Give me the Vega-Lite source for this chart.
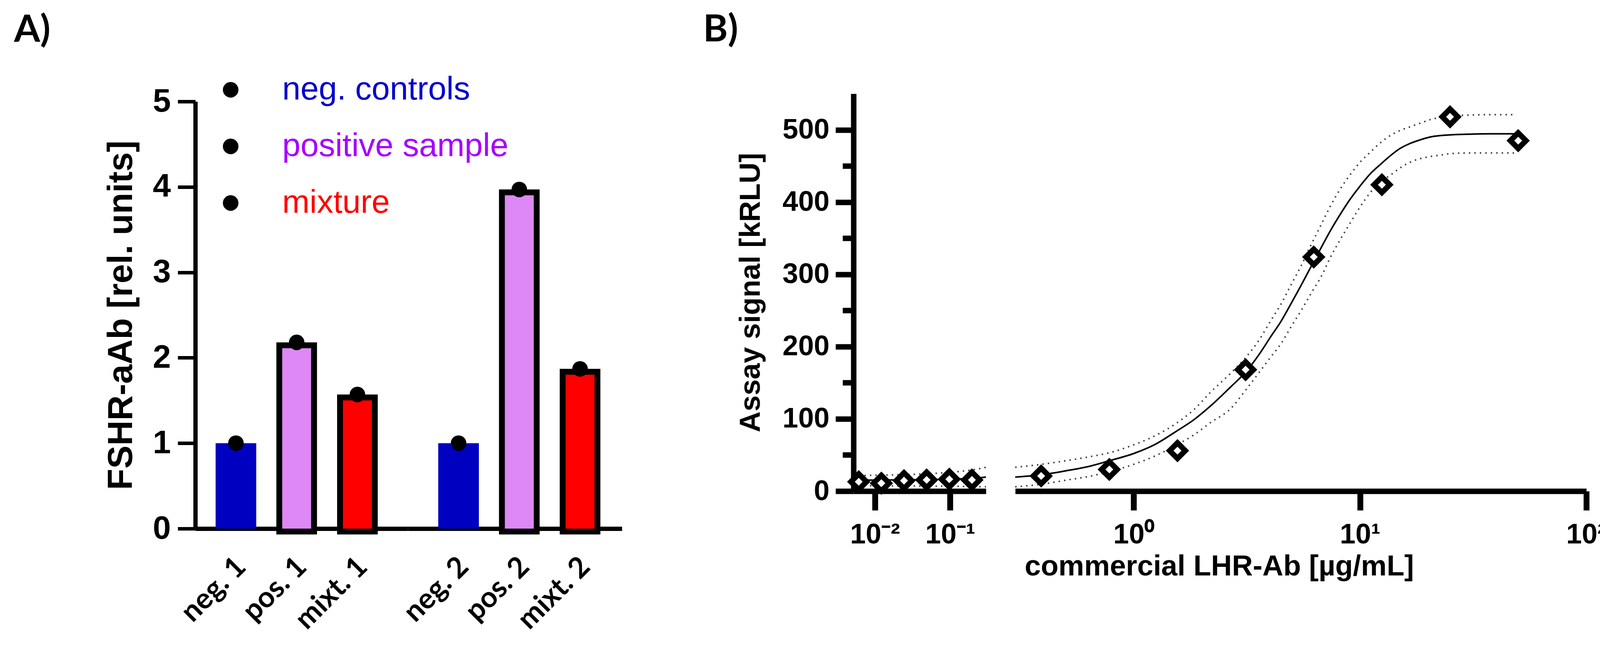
{
  "$schema": "https://vega.github.io/schema/vega-lite/v6.json",
  "background": "white",
  "padding": {"left": 36, "top": 29, "right": 40, "bottom": 28},
  "spacing": 0,
  "bounds": "flush",
  "resolve": {"scale": {"shape": "independent"}, "legend": {"shape": "independent"}},
  "datasets": {
    "bars": [
      {"sample": "neg. 1", "set": 1, "type": "neg. controls", "value": 1.0},
      {"sample": "pos. 1", "set": 1, "type": "positive sample", "value": 2.18},
      {"sample": "mixt. 1", "set": 1, "type": "mixture", "value": 1.57},
      {"sample": "neg. 2", "set": 2, "type": "neg. controls", "value": 1.0},
      {"sample": "pos. 2", "set": 2, "type": "positive sample", "value": 3.97},
      {"sample": "mixt. 2", "set": 2, "type": "mixture", "value": 1.87}
    ],
    "points": [
      {"conc": 0.0061, "signal": 13},
      {"conc": 0.0122, "signal": 11},
      {"conc": 0.0244, "signal": 14.5},
      {"conc": 0.0488, "signal": 15.5},
      {"conc": 0.0977, "signal": 16.5},
      {"conc": 0.1953, "signal": 15.5},
      {"conc": 0.3906, "signal": 21},
      {"conc": 0.7813, "signal": 30},
      {"conc": 1.5625, "signal": 56},
      {"conc": 3.125, "signal": 168},
      {"conc": 6.25, "signal": 324},
      {"conc": 12.5, "signal": 424},
      {"conc": 25, "signal": 518},
      {"conc": 50, "signal": 485}
    ],
    "curve": [
      {"band": "fit", "conc": 0.0052, "signal": 15.2},
      {"band": "fit", "conc": 0.01, "signal": 15.3},
      {"band": "fit", "conc": 0.02, "signal": 15.5},
      {"band": "fit", "conc": 0.05, "signal": 15.9},
      {"band": "fit", "conc": 0.1, "signal": 16.5},
      {"band": "fit", "conc": 0.15, "signal": 17.1},
      {"band": "fit", "conc": 0.2, "signal": 17.7},
      {"band": "fit", "conc": 0.25, "signal": 18.5},
      {"band": "fit", "conc": 0.3, "signal": 19.4},
      {"band": "fit", "conc": 0.39, "signal": 22.5},
      {"band": "fit", "conc": 0.5, "signal": 28},
      {"band": "fit", "conc": 0.65, "signal": 35},
      {"band": "fit", "conc": 0.78, "signal": 42},
      {"band": "fit", "conc": 1.0, "signal": 52},
      {"band": "fit", "conc": 1.25, "signal": 65},
      {"band": "fit", "conc": 1.53, "signal": 82},
      {"band": "fit", "conc": 1.85, "signal": 99},
      {"band": "fit", "conc": 2.19, "signal": 118},
      {"band": "fit", "conc": 2.68, "signal": 144},
      {"band": "fit", "conc": 3.13, "signal": 165},
      {"band": "fit", "conc": 3.6, "signal": 190},
      {"band": "fit", "conc": 4.02, "signal": 213},
      {"band": "fit", "conc": 4.5, "signal": 236},
      {"band": "fit", "conc": 4.93, "signal": 258},
      {"band": "fit", "conc": 5.5, "signal": 285},
      {"band": "fit", "conc": 6.04, "signal": 309},
      {"band": "fit", "conc": 6.82, "signal": 340},
      {"band": "fit", "conc": 7.39, "signal": 360},
      {"band": "fit", "conc": 8.18, "signal": 383},
      {"band": "fit", "conc": 9.05, "signal": 404},
      {"band": "fit", "conc": 10, "signal": 422},
      {"band": "fit", "conc": 11.1, "signal": 439},
      {"band": "fit", "conc": 12.3, "signal": 452},
      {"band": "fit", "conc": 13.6, "signal": 464},
      {"band": "fit", "conc": 15, "signal": 474},
      {"band": "fit", "conc": 16.6, "signal": 481},
      {"band": "fit", "conc": 18.4, "signal": 486},
      {"band": "fit", "conc": 20.4, "signal": 490},
      {"band": "fit", "conc": 22.6, "signal": 492},
      {"band": "fit", "conc": 25, "signal": 493},
      {"band": "fit", "conc": 30.6, "signal": 494},
      {"band": "fit", "conc": 38, "signal": 494.5},
      {"band": "fit", "conc": 48.9, "signal": 494.5},
      {"band": "upper", "conc": 0.0052, "signal": 21.5},
      {"band": "upper", "conc": 0.01, "signal": 22},
      {"band": "upper", "conc": 0.02, "signal": 22.6},
      {"band": "upper", "conc": 0.05, "signal": 24},
      {"band": "upper", "conc": 0.1, "signal": 26},
      {"band": "upper", "conc": 0.15, "signal": 27.8},
      {"band": "upper", "conc": 0.2, "signal": 29.5},
      {"band": "upper", "conc": 0.25, "signal": 31.2},
      {"band": "upper", "conc": 0.3, "signal": 33},
      {"band": "upper", "conc": 0.39, "signal": 37},
      {"band": "upper", "conc": 0.5, "signal": 42},
      {"band": "upper", "conc": 0.65, "signal": 48},
      {"band": "upper", "conc": 0.78, "signal": 53},
      {"band": "upper", "conc": 1.0, "signal": 64},
      {"band": "upper", "conc": 1.25, "signal": 77},
      {"band": "upper", "conc": 1.53, "signal": 93},
      {"band": "upper", "conc": 1.85, "signal": 113},
      {"band": "upper", "conc": 2.19, "signal": 137},
      {"band": "upper", "conc": 2.68, "signal": 163},
      {"band": "upper", "conc": 3.13, "signal": 185},
      {"band": "upper", "conc": 3.6, "signal": 210},
      {"band": "upper", "conc": 4.02, "signal": 235},
      {"band": "upper", "conc": 4.5, "signal": 260},
      {"band": "upper", "conc": 4.93, "signal": 284},
      {"band": "upper", "conc": 5.5, "signal": 312},
      {"band": "upper", "conc": 6.04, "signal": 339},
      {"band": "upper", "conc": 6.82, "signal": 372},
      {"band": "upper", "conc": 7.39, "signal": 394},
      {"band": "upper", "conc": 8.18, "signal": 418},
      {"band": "upper", "conc": 9.05, "signal": 438},
      {"band": "upper", "conc": 10, "signal": 455},
      {"band": "upper", "conc": 11.1, "signal": 469},
      {"band": "upper", "conc": 12.3, "signal": 482},
      {"band": "upper", "conc": 13.6, "signal": 492},
      {"band": "upper", "conc": 15, "signal": 499},
      {"band": "upper", "conc": 16.6, "signal": 504},
      {"band": "upper", "conc": 18.4, "signal": 509},
      {"band": "upper", "conc": 20.4, "signal": 514},
      {"band": "upper", "conc": 22.6, "signal": 517},
      {"band": "upper", "conc": 25, "signal": 519},
      {"band": "upper", "conc": 30.6, "signal": 520.5},
      {"band": "upper", "conc": 38, "signal": 521},
      {"band": "upper", "conc": 48.9, "signal": 521},
      {"band": "lower", "conc": 0.0052, "signal": 7.5},
      {"band": "lower", "conc": 0.01, "signal": 7.4},
      {"band": "lower", "conc": 0.02, "signal": 7.2},
      {"band": "lower", "conc": 0.05, "signal": 7.0},
      {"band": "lower", "conc": 0.1, "signal": 6.7},
      {"band": "lower", "conc": 0.15, "signal": 6.5},
      {"band": "lower", "conc": 0.2, "signal": 6.3},
      {"band": "lower", "conc": 0.25, "signal": 6.1},
      {"band": "lower", "conc": 0.3, "signal": 6.0},
      {"band": "lower", "conc": 0.39, "signal": 9.5},
      {"band": "lower", "conc": 0.5, "signal": 15},
      {"band": "lower", "conc": 0.65, "signal": 21},
      {"band": "lower", "conc": 0.78, "signal": 27},
      {"band": "lower", "conc": 1.0, "signal": 37},
      {"band": "lower", "conc": 1.25, "signal": 49},
      {"band": "lower", "conc": 1.53, "signal": 63},
      {"band": "lower", "conc": 1.85, "signal": 78},
      {"band": "lower", "conc": 2.19, "signal": 95},
      {"band": "lower", "conc": 2.68, "signal": 114},
      {"band": "lower", "conc": 3.13, "signal": 140},
      {"band": "lower", "conc": 3.6, "signal": 165},
      {"band": "lower", "conc": 4.02, "signal": 185},
      {"band": "lower", "conc": 4.5, "signal": 205},
      {"band": "lower", "conc": 4.93, "signal": 226},
      {"band": "lower", "conc": 5.5, "signal": 250},
      {"band": "lower", "conc": 6.04, "signal": 272},
      {"band": "lower", "conc": 6.82, "signal": 300},
      {"band": "lower", "conc": 7.39, "signal": 323},
      {"band": "lower", "conc": 8.18, "signal": 348},
      {"band": "lower", "conc": 9.05, "signal": 371},
      {"band": "lower", "conc": 10, "signal": 393},
      {"band": "lower", "conc": 11.1, "signal": 413},
      {"band": "lower", "conc": 12.3, "signal": 428},
      {"band": "lower", "conc": 13.6, "signal": 437},
      {"band": "lower", "conc": 15, "signal": 447},
      {"band": "lower", "conc": 16.6, "signal": 455},
      {"band": "lower", "conc": 18.4, "signal": 460},
      {"band": "lower", "conc": 20.4, "signal": 463},
      {"band": "lower", "conc": 22.6, "signal": 465},
      {"band": "lower", "conc": 25, "signal": 467},
      {"band": "lower", "conc": 30.6, "signal": 468},
      {"band": "lower", "conc": 38, "signal": 468},
      {"band": "lower", "conc": 48.9, "signal": 468}
    ]
  },
  "hconcat": [
    {
      "width": 544,
      "height": 1114,
      "title": {"text": "A)", "dx": -464, "offset": 61},
      "data": {"name": "bars"},
      "transform": [{"filter": "datum.set === 1"}],
      "encoding": {
        "x": {
          "field": "sample",
          "type": "nominal",
          "scale": {"domain": ["neg. 1", "pos. 1", "mixt. 1"], "paddingInner": 0.331, "paddingOuter": 0.4146, "align": 0.403},
          "axis": {"title": null, "ticks": false, "tickSize": 0, "domainWidth": 11, "labelAngle": -45, "labelAlign": "right", "labelBaseline": "middle", "labelFont": "Lato", "labelFontSize": 74, "labelFontWeight": "bold", "labelPadding": 86, "labelOffset": 14, "labelLimit": 1000}
        },
        "y": {
          "field": "value",
          "type": "quantitative",
          "scale": {"domain": [0, 5], "range": [1114, 20], "nice": false},
          "axis": {"title": "FSHR-aAb [rel. units]", "titleFontSize": 89, "titlePadding": 34, "values": [0, 1, 2, 3, 4, 5], "tickSize": 45, "tickWidth": 9, "domainWidth": 11, "labelFontSize": 83, "labelPadding": 18}
        }
      },
      "layer": [
        {
          "transform": [{"filter": "datum.type === 'neg. controls'"}],
          "mark": {"type": "bar"},
          "encoding": {"color": {"field": "type", "type": "nominal", "scale": {"domain": ["neg. controls", "positive sample", "mixture"], "range": ["#0000C0", "#DD88F5", "#FF0000"]}, "legend": null}}
        },
        {
          "transform": [{"filter": "datum.type !== 'neg. controls'"}],
          "mark": {"type": "bar", "stroke": "black", "strokeWidth": 15, "width": {"band": 0.856}, "yOffset": 7.5},
          "encoding": {"color": {"field": "type", "type": "nominal", "scale": {"domain": ["neg. controls", "positive sample", "mixture"], "range": ["#0000C0", "#DD88F5", "#FF0000"]}, "legend": null}}
        },
        {
          "mark": {"type": "point", "filled": true, "color": "black", "size": 1590, "strokeWidth": 0, "opacity": 1},
          "encoding": {
            "shape": {
              "field": "type",
              "type": "nominal",
              "scale": {"domain": ["neg. controls", "positive sample", "mixture"], "range": ["circle", "circle", "circle"]},
              "legend": {
                "orient": "none", "legendX": 48.5, "legendY": -52, "title": null, "direction": "vertical",
                "symbolType": "circle", "symbolSize": 1590, "symbolFillColor": "black", "symbolStrokeColor": "black",
                "labelFont": "Liberation Sans", "labelFontSize": 84, "labelFontWeight": "normal", "labelOffset": 90, "labelLimit": 2000, "rowPadding": 61,
                "labelColor": {"expr": "datum.label === 'neg. controls' ? '#0000CC' : datum.label === 'positive sample' ? '#A600FF' : '#FF0000'"}
              }
            }
          }
        }
      ]
    },
    {
      "width": 1141,
      "height": 1114,
      "data": {"name": "bars"},
      "transform": [{"filter": "datum.set === 2"}],
      "encoding": {
        "x": {
          "field": "sample",
          "type": "nominal",
          "scale": {"domain": ["neg. 2", "pos. 2", "mixt. 2"], "range": [0, 548], "paddingInner": 0.331, "paddingOuter": 0.4275, "align": 0.586},
          "axis": {"title": null, "ticks": false, "tickSize": 0, "domainWidth": 11, "labelAngle": -45, "labelAlign": "right", "labelBaseline": "middle", "labelFont": "Lato", "labelFontSize": 74, "labelFontWeight": "bold", "labelPadding": 86, "labelOffset": 14, "labelLimit": 1000}
        },
        "y": {
          "field": "value",
          "type": "quantitative",
          "scale": {"domain": [0, 5], "range": [1114, 20], "nice": false},
          "axis": null
        }
      },
      "layer": [
        {
          "transform": [{"filter": "datum.type === 'neg. controls'"}],
          "mark": {"type": "bar"},
          "encoding": {"color": {"field": "type", "type": "nominal", "scale": {"domain": ["neg. controls", "positive sample", "mixture"], "range": ["#0000C0", "#DD88F5", "#FF0000"]}, "legend": null}}
        },
        {
          "transform": [{"filter": "datum.type !== 'neg. controls'"}],
          "mark": {"type": "bar", "stroke": "black", "strokeWidth": 15, "width": {"band": 0.856}, "yOffset": 7.5},
          "encoding": {"color": {"field": "type", "type": "nominal", "scale": {"domain": ["neg. controls", "positive sample", "mixture"], "range": ["#0000C0", "#DD88F5", "#FF0000"]}, "legend": null}}
        },
        {
          "mark": {"type": "point", "shape": "circle", "filled": true, "color": "black", "size": 1590, "strokeWidth": 0, "opacity": 1}
        }
      ]
    },
    {
      "width": 414,
      "height": 1018,
      "title": {"text": "B)", "dx": -385, "offset": 114},
      "encoding": {
        "x": {
          "field": "conc",
          "type": "quantitative",
          "scale": {"type": "log", "domain": [0.0052, 0.3], "range": [0, 339], "nice": false},
          "axis": {"title": null, "values": [0.01, 0.1], "labelExpr": "datum.value < 0.05 ? '10⁻²' : '10⁻¹'", "tickSize": 49, "tickWidth": 15, "domainWidth": 14, "labelFontSize": 72, "labelPadding": 27}
        },
        "y": {
          "field": "signal",
          "type": "quantitative",
          "scale": {"domain": [0, 550], "nice": false},
          "axis": {
            "title": "Assay signal [kRLU]", "titleFontSize": 74, "titlePadding": 42,
            "values": [0, 50, 100, 150, 200, 250, 300, 350, 400, 450, 500],
            "labelExpr": "datum.value % 100 === 0 ? datum.label : ''",
            "tickSize": {"condition": {"test": "datum.value % 100 === 0", "value": 46}, "value": 28},
            "tickWidth": 14, "domainWidth": 14, "labelFontSize": 72, "labelPadding": 16
          }
        }
      },
      "layer": [
        {
          "data": {"name": "curve"},
          "transform": [{"filter": "datum.conc <= 0.3 && datum.band !== 'fit'"}],
          "mark": {"type": "line", "interpolate": "monotone", "strokeWidth": 4, "strokeDash": [3.5, 10.5], "color": "#3a3a3a"},
          "encoding": {"detail": {"field": "band"}}
        },
        {
          "data": {"name": "curve"},
          "transform": [{"filter": "datum.conc <= 0.3 && datum.band === 'fit'"}],
          "mark": {"type": "line", "interpolate": "monotone", "strokeWidth": 4, "color": "black"},
          "encoding": {}
        },
        {
          "data": {"name": "points"},
          "transform": [{"filter": "datum.conc <= 0.3"}],
          "mark": {"type": "point", "shape": "diamond", "filled": true, "fill": "white", "stroke": "black", "strokeWidth": 14, "size": 1600, "opacity": 1}
        },
        {
          "data": {"values": [{}]},
          "mark": {"type": "rule", "strokeWidth": 14, "color": "black"},
          "encoding": {"x": {"datum": 0.3}, "y": {"datum": -13}, "y2": {"datum": 13}}
        }
      ]
    },
    {
      "width": 1462,
      "height": 1018,
      "encoding": {
        "x": {
          "field": "conc",
          "type": "quantitative",
          "scale": {"type": "log", "domain": [0.3, 100], "nice": false},
          "axis": {"title": "commercial LHR-Ab [µg/mL]", "titleX": 522, "titleFontSize": 74, "titlePadding": 10, "values": [1, 10, 100], "labelExpr": "datum.value < 5 ? '10⁰' : datum.value < 50 ? '10¹' : '10²'", "tickSize": 49, "tickWidth": 15, "domainWidth": 14, "labelFontSize": 72, "labelPadding": 27}
        },
        "y": {
          "field": "signal",
          "type": "quantitative",
          "scale": {"domain": [0, 550], "nice": false},
          "axis": null
        }
      },
      "layer": [
        {
          "data": {"name": "curve"},
          "transform": [{"filter": "datum.conc >= 0.3 && datum.band !== 'fit'"}],
          "mark": {"type": "line", "interpolate": "monotone", "strokeWidth": 4, "strokeDash": [3.5, 10.5], "color": "#3a3a3a"},
          "encoding": {"detail": {"field": "band"}}
        },
        {
          "data": {"name": "curve"},
          "transform": [{"filter": "datum.conc >= 0.3 && datum.band === 'fit'"}],
          "mark": {"type": "line", "interpolate": "monotone", "strokeWidth": 4, "color": "black"},
          "encoding": {}
        },
        {
          "data": {"name": "points"},
          "transform": [{"filter": "datum.conc >= 0.3"}],
          "mark": {"type": "point", "shape": "diamond", "filled": true, "fill": "white", "stroke": "black", "strokeWidth": 14, "size": 1600, "opacity": 1}
        },
        {
          "data": {"values": [{}]},
          "mark": {"type": "rule", "strokeWidth": 14, "color": "black"},
          "encoding": {"x": {"datum": 0.3}, "y": {"datum": -13}, "y2": {"datum": 13}}
        }
      ]
    }
  ],
  "config": {
    "view": {"stroke": null},
    "font": "Liberation Sans",
    "axis": {
      "grid": false, "domainColor": "black", "tickColor": "black", "labelColor": "black", "titleColor": "black",
      "labelFont": "Liberation Sans", "titleFont": "Liberation Sans", "labelFontWeight": "bold", "titleFontWeight": "bold",
      "domainCap": "butt", "tickCap": "butt", "labelOverlap": false, "labelFlush": false, "labelBound": false
    },
    "title": {"font": "Lato", "fontSize": 96, "fontWeight": "bold", "color": "black", "anchor": "start", "frame": "group", "baseline": "bottom"}
  }
}
